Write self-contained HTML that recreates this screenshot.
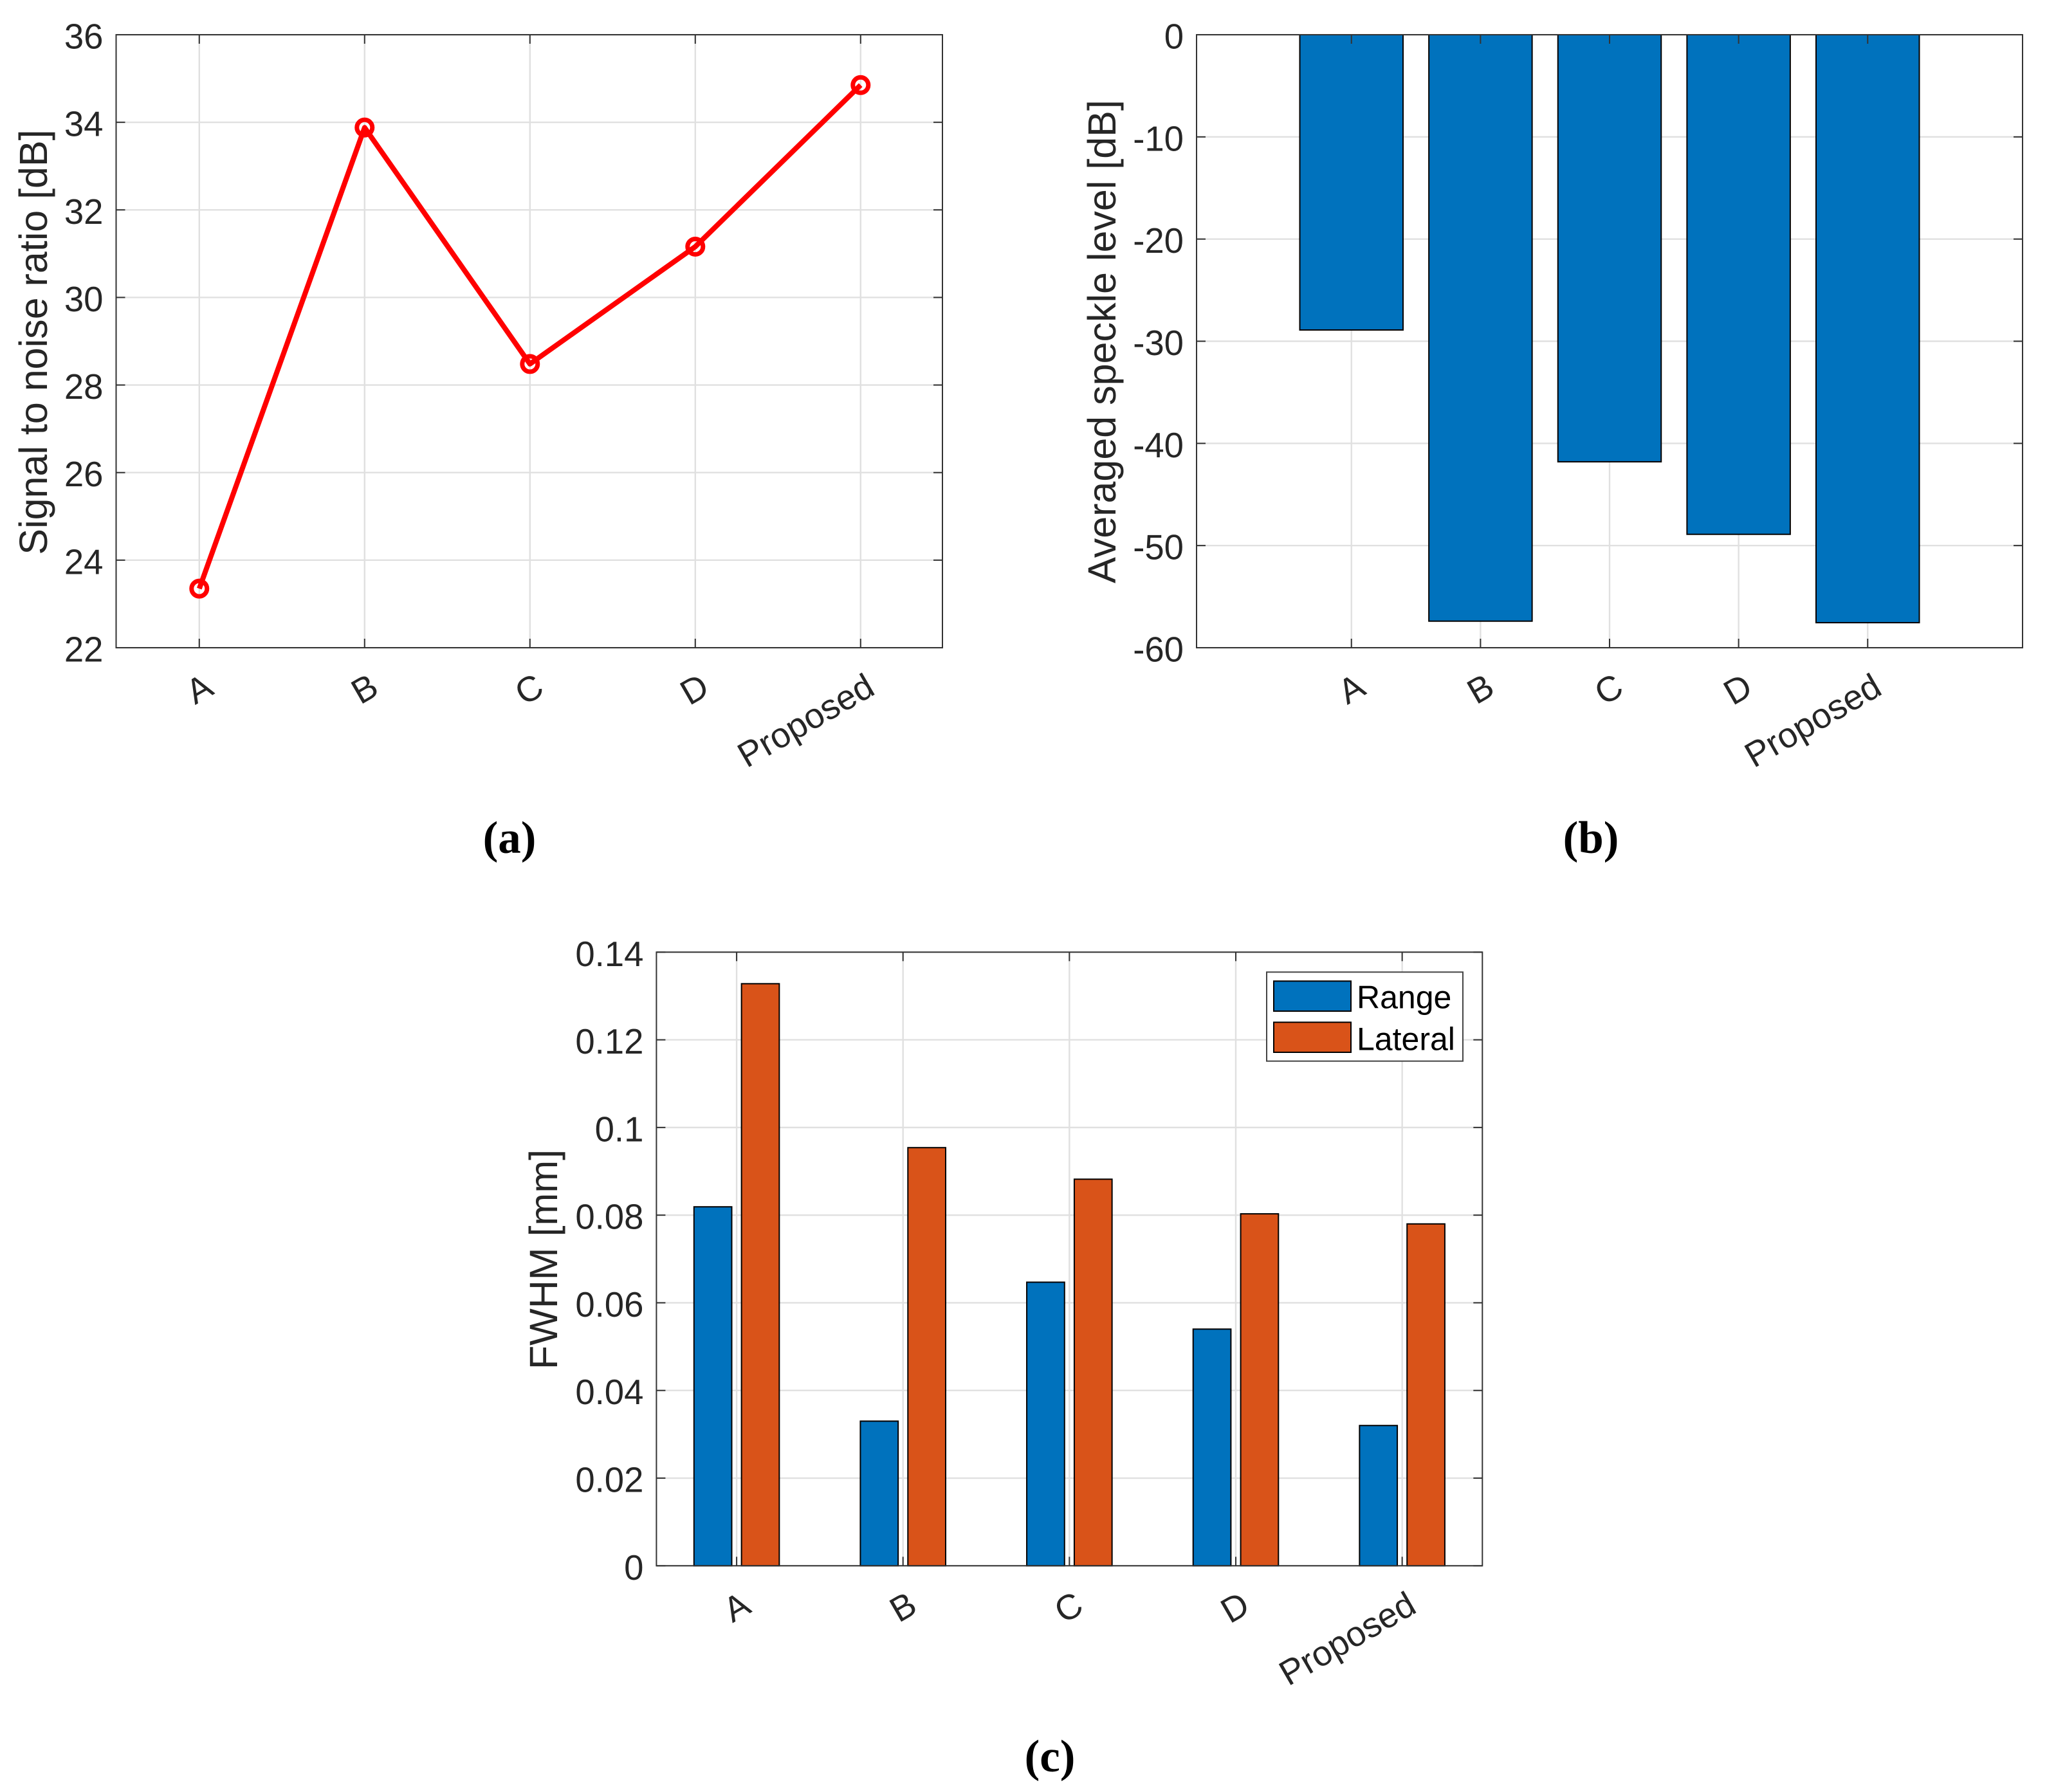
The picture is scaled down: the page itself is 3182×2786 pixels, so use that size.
<!DOCTYPE html>
<html lang="en">
<head>
<meta charset="utf-8">
<title>Signal to noise, speckle level and FWHM comparison</title>
<style>
html,body{margin:0;padding:0;background:#fff;}
#figure{display:block;width:3182px;height:2786px;background:#fff;}
text{font-family:"Liberation Sans",Arial,sans-serif;fill:#262626;}
.caption{font-family:"Liberation Serif",serif;font-weight:bold;font-size:71px;fill:#000;text-anchor:middle;}
</style>
</head>
<body>
<svg id="figure" xmlns="http://www.w3.org/2000/svg" width="3182" height="2786" viewBox="0 0 3182 2786">
<text class="caption" x="792" y="1326">(a)</text>
<text class="caption" x="2473" y="1326">(b)</text>
<text class="caption" x="1632" y="2754">(c)</text>
</svg>
<script>
const categories = ['A', 'B', 'C', 'D', 'Proposed'];
const snrValues = [23.35, 33.88, 28.48, 31.16, 34.85];
const speckleValues = [-28.9, -57.4, -41.8, -48.9, -57.55];
const rangeValues = [0.0819, 0.033, 0.0647, 0.054, 0.032];
const lateralValues = [0.1328, 0.0954, 0.0882, 0.0803, 0.078];
const snrTicks = [22, 24, 26, 28, 30, 32, 34, 36];
const speckleTicks = [0, -10, -20, -30, -40, -50, -60];
const fwhmTicks = [0, 0.02, 0.04, 0.06, 0.08, 0.1, 0.12, 0.14];
const legendLabels = ['Range', 'Lateral'];

const NS = 'http://www.w3.org/2000/svg';
const fig = document.getElementById('figure');
const BLUE = '#0072bd';
const ORANGE = '#d95319';
const AXIS = '#333333';
const GRID = '#e0e0e0';

function make(tag, attrs, parent, text) {
  const node = document.createElementNS(NS, tag);
  for (const k in attrs) node.setAttribute(k, attrs[k]);
  if (text !== undefined) node.textContent = text;
  parent.appendChild(node);
  return node;
}

function linear(d0, d1, r0, r1) {
  return function (v) { return r0 + (v - d0) * (r1 - r0) / (d1 - d0); };
}

function drawGrid(g, box, xs, ys, xTicks, yTicks) {
  const layer = make('g', {}, g);
  
  
  xTicks.forEach(function (t) {
    make('line', {x1: xs(t), x2: xs(t), y1: box.top, y2: box.bottom, stroke: GRID, 'stroke-width': 2.4}, layer);
  });
  yTicks.forEach(function (t) {
    make('line', {x1: box.left, x2: box.right, y1: ys(t), y2: ys(t), stroke: GRID, 'stroke-width': 2.4}, layer);
  });
}

function drawFrame(g, box, xs, ys, xTicks, yTicks, labels, yLabel, yLabelX, yLabelY) {
  const ticks = make('g', {stroke: AXIS, 'stroke-width': 2}, g);
  
  
  xTicks.forEach(function (t) {
    make('line', {x1: xs(t), x2: xs(t), y1: box.top, y2: box.top + 14}, ticks);
    make('line', {x1: xs(t), x2: xs(t), y1: box.bottom, y2: box.bottom - 14}, ticks);
  });
  yTicks.forEach(function (t) {
    make('line', {x1: box.left, x2: box.left + 14, y1: ys(t), y2: ys(t)}, ticks);
    make('line', {x1: box.right, x2: box.right - 14, y1: ys(t), y2: ys(t)}, ticks);
  });
  const frame = make('rect', {x: box.left, y: box.top, width: box.right - box.left, height: box.bottom - box.top, fill: 'none', stroke: AXIS, 'stroke-width': 2}, g);
  
  

  xTicks.forEach(function (t, i) {
    const px = xs(t) + 25;
    const py = box.bottom + 71;
    const label = make('text', {x: px, y: py, 'font-size': 54.5, 'text-anchor': 'end', transform: 'rotate(-30 ' + px + ' ' + py + ')'}, g, labels[i]);
    
    
  });
  yTicks.forEach(function (t) {
    const label = make('text', {x: box.left - 20, y: ys(t) + 21.5, 'font-size': 54.5, 'text-anchor': 'end'}, g, String(t));
    
    
  });
  const title = make('text', {x: yLabelX, y: yLabelY, 'font-size': 61, 'text-anchor': 'middle', transform: 'rotate(-90 ' + yLabelX + ' ' + yLabelY + ')'}, g, yLabel);
  
  
}

const positions = categories.map(function (c, i) { return i + 1; });

/* Panel (a): line chart */
(function () {
  const g = make('g', {}, fig);
  
  
  const box = {left: 180.5, right: 1465, top: 54, bottom: 1007};
  const xs = linear(0.497, 5.495, box.left, box.right);
  const ys = linear(22, 36, box.bottom, box.top);
  drawGrid(g, box, xs, ys, positions, snrTicks);
  const points = snrValues.map(function (v, i) { return xs(positions[i]) + ',' + ys(v); }).join(' ');
  const line = make('polyline', {points: points, fill: 'none', stroke: '#ff0000', 'stroke-width': 8, 'stroke-linejoin': 'round'}, g);
  
  
  snrValues.forEach(function (v, i) {
    const dot = make('circle', {cx: xs(positions[i]), cy: ys(v), r: 12, fill: 'none', stroke: '#ff0000', 'stroke-width': 7}, g);
    
    
  });
  drawFrame(g, box, xs, ys, positions, snrTicks, categories, 'Signal to noise ratio [dB]', 73, 532);
})();

/* Panel (b): bar chart */
(function () {
  const g = make('g', {}, fig);
  
  
  const box = {left: 1860, right: 3144, top: 54, bottom: 1007};
  const xs = linear(-0.2, 6.2, box.left, box.right);
  const ys = linear(-60, 0, box.bottom, box.top);
  drawGrid(g, box, xs, ys, positions, speckleTicks);
  speckleValues.forEach(function (v, i) {
    const bar = make('rect', {x: xs(positions[i] - 0.4), y: ys(0), width: xs(positions[i] + 0.4) - xs(positions[i] - 0.4), height: ys(v) - ys(0), fill: BLUE, stroke: '#000', 'stroke-width': 2}, g);
    
    
  });
  drawFrame(g, box, xs, ys, positions, speckleTicks, categories, 'Averaged speckle level [dB]', 1734, 531);
})();

/* Panel (c): grouped bar chart */
(function () {
  const g = make('g', {}, fig);
  
  
  const box = {left: 1020.4, right: 2304.3, top: 1480.3, bottom: 2434.3};
  const xs = linear(0.518, 5.482, box.left, box.right);
  const ys = linear(0, 0.14, box.bottom, box.top);
  drawGrid(g, box, xs, ys, positions, fwhmTicks);
  const halfWidth = 0.1135;
  const groupOffset = 0.1428;
  rangeValues.forEach(function (v, i) {
    const c = positions[i] - groupOffset;
    const bar = make('rect', {x: xs(c - halfWidth), y: ys(v), width: xs(c + halfWidth) - xs(c - halfWidth), height: ys(0) - ys(v), fill: BLUE, stroke: '#000', 'stroke-width': 2}, g);
    
    
  });
  lateralValues.forEach(function (v, i) {
    const c = positions[i] + groupOffset;
    const bar = make('rect', {x: xs(c - halfWidth), y: ys(v), width: xs(c + halfWidth) - xs(c - halfWidth), height: ys(0) - ys(v), fill: ORANGE, stroke: '#000', 'stroke-width': 2}, g);
    
    
  });
  drawFrame(g, box, xs, ys, positions, fwhmTicks, categories, 'FWHM [mm]', 866, 1958);

  const legend = make('g', {}, g);
  
  
  make('rect', {x: 1969, y: 1511.3, width: 305, height: 138.4, fill: '#fff', stroke: '#444', 'stroke-width': 2}, legend);
  legendLabels.forEach(function (name, i) {
    const entry = make('g', {}, legend);
    
    
    make('rect', {x: 1980, y: 1525.3 + i * 64, width: 120, height: 46.7, fill: i === 0 ? BLUE : ORANGE, stroke: '#000', 'stroke-width': 2}, entry);
    make('text', {x: 2109, y: 1567.5 + i * 65.2, 'font-size': 50, style: 'fill:#000'}, entry, name);
  });
})();
</script>
</body>
</html>
